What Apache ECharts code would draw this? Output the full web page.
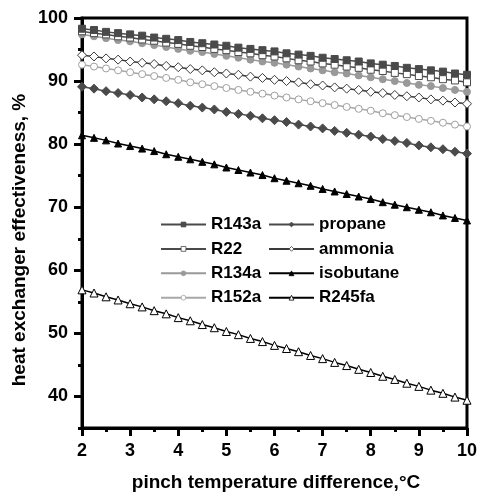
<!DOCTYPE html>
<html>
<head>
<meta charset="utf-8">
<script src="https://cdn.jsdelivr.net/npm/echarts@6/dist/echarts.min.js"></script>
<style>html,body{margin:0;padding:0;background:#fff;}#c{width:480px;height:500px;}</style>
</head>
<body>
<div id="c"></div>
<script>
var pinch = [2,2.25,2.5,2.75,3,3.25,3.5,3.75,4,4.25,4.5,4.75,5,5.25,5.5,5.75,6,6.25,6.5,6.75,7,7.25,7.5,7.75,8,8.25,8.5,8.75,9,9.25,9.5,9.75,10];
var xTicks = [2,3,4,5,6,7,8,9,10];
var yTicks = [40,50,60,70,80,90,100];
var R143a = [98.3,98.1,97.8,97.6,97.4,97.2,96.9,96.7,96.5,96.2,96.0,95.8,95.6,95.3,95.1,94.9,94.7,94.4,94.2,94.0,93.7,93.5,93.3,93.1,92.8,92.6,92.4,92.1,91.9,91.7,91.5,91.2,91.0];
var R22 = [97.9,97.6,97.4,97.1,96.9,96.6,96.4,96.1,95.9,95.6,95.4,95.1,94.9,94.6,94.4,94.1,93.9,93.6,93.3,93.1,92.8,92.6,92.3,92.1,91.8,91.6,91.3,91.1,90.8,90.6,90.3,90.1,89.8];
var R134a = [97.4,97.1,96.8,96.5,96.3,96.0,95.7,95.4,95.1,94.8,94.6,94.3,94.0,93.7,93.4,93.1,92.9,92.6,92.3,92.0,91.7,91.4,91.2,90.9,90.6,90.3,90.0,89.7,89.4,89.2,88.9,88.6,88.3];
var R152a = [92.6,92.3,92.0,91.7,91.4,91.1,90.8,90.5,90.2,89.8,89.5,89.2,88.9,88.6,88.3,88.0,87.7,87.4,87.1,86.8,86.5,86.2,85.9,85.6,85.3,84.9,84.6,84.3,84.0,83.7,83.4,83.1,82.8];
var propane = [89.1,88.8,88.4,88.1,87.8,87.4,87.1,86.8,86.5,86.1,85.8,85.5,85.1,84.8,84.5,84.1,83.8,83.5,83.1,82.8,82.5,82.1,81.8,81.5,81.2,80.8,80.5,80.2,79.8,79.5,79.2,78.8,78.5];
var ammonia = [94.1,93.9,93.6,93.4,93.1,92.9,92.7,92.4,92.2,91.9,91.7,91.4,91.2,91.0,90.7,90.5,90.2,90.0,89.8,89.5,89.3,89.0,88.8,88.6,88.3,88.1,87.8,87.6,87.4,87.1,86.9,86.6,86.4];
var isobutane = [81.4,81.0,80.6,80.1,79.7,79.3,78.9,78.4,78.0,77.6,77.2,76.8,76.3,75.9,75.5,75.1,74.6,74.2,73.8,73.4,72.9,72.5,72.1,71.7,71.3,70.8,70.4,70.0,69.6,69.2,68.7,68.3,67.9];
var R245fa = [56.9,56.4,55.8,55.3,54.7,54.2,53.6,53.1,52.5,52.0,51.4,50.9,50.3,49.8,49.2,48.7,48.1,47.6,47.1,46.5,46.0,45.4,44.9,44.3,43.8,43.2,42.7,42.1,41.6,41.0,40.5,39.9,39.4];
var xTitle = 'pinch temperature difference,\u00B0C';
var yTitle = 'heat exchanger effectiveness, %';

var FONT = '"Liberation Sans", Arial, sans-serif';
function pairs(v){ return pinch.map(function(x,i){ return [x, v[i]]; }); }
function ser(name, data, symbol, size, lineColor, fill, border) {
  return {
    name: name, type: 'line', xAxisIndex: 0, yAxisIndex: 0,
    data: pairs(data), symbol: symbol, symbolSize: size, showSymbol: true,
    lineStyle: {color: lineColor, width: 1.5},
    itemStyle: {color: fill, borderColor: border, borderWidth: 1, opacity: 1},
    emphasis: {disabled: true}, animation: false
  };
}
var series = [
  ser('R245fa', R245fa, 'triangle', 8, '#000', '#fff', '#000'),
  ser('isobutane', isobutane, 'triangle', 7, '#000', '#000', '#000'),
  ser('ammonia', ammonia, 'diamond', 9, '#3a3a3a', '#fff', '#3a3a3a'),
  ser('propane', propane, 'diamond', 9, '#4a4a4a', '#4a4a4a', '#4a4a4a'),
  ser('R152a', R152a, 'circle', 7, '#a8a8a8', '#fff', '#a0a0a0'),
  ser('R134a', R134a, 'circle', 7, '#999999', '#999999', '#999999'),
  ser('R22', R22, 'rect', 7, '#4a4a4a', '#fff', '#4a4a4a'),
  ser('R143a', R143a, 'rect', 7, '#4a4a4a', '#4a4a4a', '#4a4a4a')
];
var legendText = {color: '#000', fontSize: 17, fontWeight: 'bold', fontFamily: FONT, lineHeight: 17};
var option = {
  backgroundColor: '#fff',
  animation: false,
  grid: [
    {left: 82, right: 9, top: 18, bottom: 72, show: true, borderColor: '#000', borderWidth: 3, containLabel: false},
    {left: 82, right: 9, top: 18, bottom: 103.5, show: false, containLabel: false}
  ],
  legend: [
    {data: ['R143a','R22','R134a','R152a'], orient: 'vertical', left: 160, top: 216, itemWidth: 45, itemHeight: 6, itemGap: 7.4, textStyle: legendText, selectedMode: false, padding: 0, itemStyle: {borderWidth: 0.8}},
    {data: ['propane','ammonia','isobutane','R245fa'], orient: 'vertical', left: 268, top: 216, itemWidth: 45, itemHeight: 6, itemGap: 7.4, textStyle: legendText, selectedMode: false, padding: 0, itemStyle: {borderWidth: 0.8}}
  ],
  xAxis: [
    {type: 'value', gridIndex: 0, min: xTicks[0], max: xTicks[xTicks.length-1], interval: 1,
     axisLine: {show: true, onZero: false, lineStyle: {color: '#000', width: 3}},
     axisTick: {show: true, length: 8, lineStyle: {color: '#000', width: 3}},
     minorTick: {show: true, splitNumber: 2, length: 4, lineStyle: {color: '#000', width: 3}},
     axisLabel: {color: '#000', fontSize: 18, fontWeight: 'bold', fontFamily: FONT, margin: 14},
     splitLine: {show: false}},
    {type: 'value', gridIndex: 1, min: 2, max: 10, show: false}
  ],
  yAxis: [
    {type: 'value', gridIndex: 0, min: 35, max: 100, interval: 5,
     axisLine: {show: true, onZero: false, lineStyle: {color: '#000', width: 3}},
     axisTick: {show: true, length: 4, lineStyle: {color: '#000', width: 3}},
     axisLabel: {show: false}, splitLine: {show: false}},
    {type: 'value', gridIndex: 1, min: yTicks[0], max: yTicks[yTicks.length-1], interval: 10,
     axisLine: {show: false},
     axisTick: {show: true, length: 8, lineStyle: {color: '#000', width: 3}},
     axisLabel: {color: '#000', fontSize: 18, fontWeight: 'bold', fontFamily: FONT, margin: 14},
     splitLine: {show: false}}
  ],
  graphic: [
    {type: 'text', x: 276, y: 483, style: {text: xTitle, fill: '#000', font: 'bold 19px ' + FONT, textAlign: 'center', textVerticalAlign: 'middle'}},
    {type: 'text', x: 20, y: 240, rotation: Math.PI/2, style: {text: yTitle, fill: '#000', font: 'bold 19px ' + FONT, textAlign: 'center', textVerticalAlign: 'middle'}}
  ],
  series: series
};
var chart = echarts.init(document.getElementById('c'), null, {renderer: 'canvas'});
chart.setOption(option);
</script>
</body>
</html>
